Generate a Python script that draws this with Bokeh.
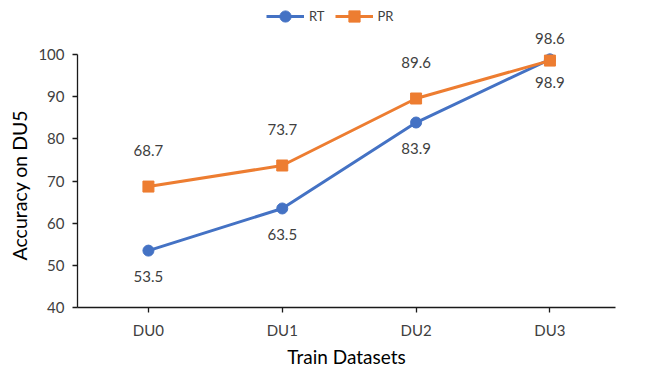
from bokeh.plotting import figure
from bokeh.models import ColumnDataSource, Legend, LegendItem, FixedTicker, Range1d, Title
from bokeh.core.properties import value
from bokeh.embed import file_html
from bokeh.resources import INLINE

categories = ["DU0", "DU1", "DU2", "DU3"]
rt_values = [53.5, 63.5, 83.9, 98.9]
pr_values = [68.7, 73.7, 89.6, 98.6]
y_ticks = [40, 50, 60, 70, 80, 90, 100]

# label placement (screen px offsets, style only)
rt_label_dy = [26, 26, 26, 23]
pr_label_dy = [-36, -36, -36, -22]

FONT = "Lato"
TXT = "#404040"
RT_COLOR = "#4472C4"
PR_COLOR = "#ED7D31"

xs = list(range(len(categories)))

p = figure(width=652, height=370, output_backend="svg", toolbar_location=None,
           x_range=Range1d(-0.53, 3.49), y_range=Range1d(40, 112.86),
           min_border_left=76, min_border_right=37, min_border_top=0, min_border_bottom=60)
p.outline_line_color = None
p.xgrid.visible = False
p.ygrid.visible = False

rt_src = ColumnDataSource(dict(x=xs, y=rt_values, t=[f"{v:.1f}" for v in rt_values], dy=rt_label_dy))
pr_src = ColumnDataSource(dict(x=xs, y=pr_values, t=[f"{v:.1f}" for v in pr_values], dy=pr_label_dy))

rt_line = p.line("x", "y", source=rt_src, line_color=RT_COLOR, line_width=3)
rt_pts = p.scatter("x", "y", source=rt_src, marker="circle", size=11,
                   fill_color=RT_COLOR, line_color=RT_COLOR)
pr_line = p.line("x", "y", source=pr_src, line_color=PR_COLOR, line_width=3)
pr_pts = p.scatter("x", "y", source=pr_src, marker="square", size=11,
                   fill_color=PR_COLOR, line_color=PR_COLOR)

p.text("x", "y", text="t", source=rt_src, text_font=value(FONT), text_font_size="15px",
       text_color=TXT, text_align="center", text_baseline="middle", y_offset="dy")
p.text("x", "y", text="t", source=pr_src, text_font=value(FONT), text_font_size="15px",
       text_color=TXT, text_align="center", text_baseline="middle", y_offset="dy")

# axes
p.xaxis.ticker = FixedTicker(ticks=xs)
p.xaxis.major_label_overrides = {i: c for i, c in enumerate(categories)}
p.yaxis.ticker = FixedTicker(ticks=y_ticks)
p.yaxis.bounds = (y_ticks[0], y_ticks[-1])
for ax in (p.xaxis[0], p.yaxis[0]):
    ax.axis_line_color = "#1a1a1a"
    ax.axis_line_width = 1.3
    ax.major_tick_line_color = "#1a1a1a"
    ax.major_tick_line_width = 1.3
    ax.major_tick_in = 0
    ax.major_tick_out = 5
    ax.minor_tick_line_color = None
    ax.major_label_text_font = FONT
    ax.major_label_text_font_size = "15px"
    ax.major_label_text_color = TXT
    ax.axis_label_text_font = FONT
    ax.axis_label_text_font_style = "normal"
    ax.axis_label_text_color = "#000000"
p.xaxis.axis_label_text_font_size = "19px"
p.xaxis.axis_label = "Train Datasets"
p.xaxis.major_label_standoff = 8
p.xaxis.axis_label_standoff = 3
p.yaxis.major_label_standoff = 8

# y-axis title: starts 47px above the frame bottom so it is centred on the 40..100 axis span
ytitle = Title(text="Accuracy on DU5", align="left", offset=47, standoff=10,
               text_font=FONT, text_font_size="19.5px", text_font_style="normal",
               text_color="#000000")
p.add_layout(ytitle, "left")

legend = Legend(items=[LegendItem(label="RT", renderers=[rt_line, rt_pts]),
                       LegendItem(label="PR", renderers=[pr_line, pr_pts])],
                orientation="horizontal", location=(189, 277),
                label_text_font=FONT, label_text_font_size="13px", label_text_color=TXT,
                border_line_color=None, background_fill_alpha=0,
                glyph_width=38, glyph_height=28, spacing=10, padding=0, margin=0,
                label_standoff=5, label_height=28, label_width=0)
p.add_layout(legend, "center")

open("out.html", "w").write(file_html(p, INLINE))
